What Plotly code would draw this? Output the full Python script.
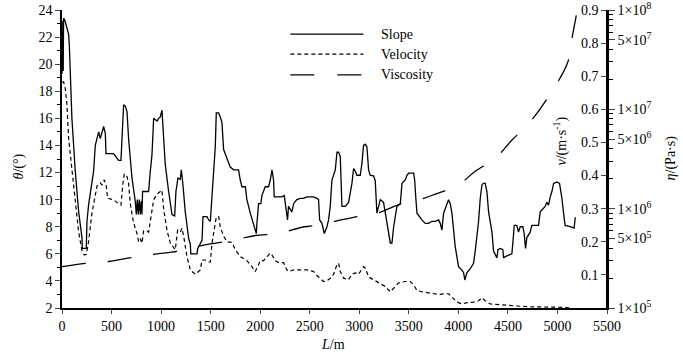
import plotly.graph_objects as go

# ---------------- data ----------------
slope_L = [0, 3, 6, 9, 12, 16, 30, 50, 67, 74, 84, 100, 134, 168, 202, 205, 245, 252, 268, 319, 336, 353, 370, 386,
           403, 420, 437, 444, 521, 571, 595, 605, 622, 639, 656, 672, 706, 740, 750, 760, 770, 780, 790, 800, 807,
           813, 874, 891, 908, 925, 942, 959, 976, 992, 1009, 1026, 1042, 1076, 1093, 1110, 1137, 1150, 1170, 1194,
           1204, 1218, 1244, 1278, 1295, 1300, 1362, 1370, 1413, 1423, 1463, 1480, 1497, 1507, 1523, 1547, 1557,
           1581, 1597, 1614, 1631, 1665, 1698, 1732, 1782, 1799, 1816, 1850, 1866, 1900, 1933, 1961, 1967, 1984,
           2007, 2017, 2051, 2085, 2102, 2119, 2135, 2142, 2169, 2219, 2243, 2263, 2276, 2286, 2320, 2337, 2370,
           2404, 2438, 2472, 2539, 2573, 2589, 2600, 2623, 2647, 2674, 2690, 2707, 2724, 2758, 2775, 2791, 2808,
           2825, 2859, 2892, 2926, 2943, 2960, 2976, 3010, 3027, 3043, 3060, 3077, 3094, 3110, 3144, 3161, 3178,
           3195, 3212, 3245, 3262, 3296, 3313, 3330, 3347, 3380, 3414, 3431, 3464, 3481, 3498, 3549, 3559, 3572,
           3582, 3632, 3666, 3700, 3733, 3767, 3800, 3817, 3834, 3851, 3868, 3901, 3918, 3935, 3969, 4002, 4036,
           4053, 4065, 4086, 4120, 4153, 4170, 4204, 4221, 4238, 4254, 4271, 4288, 4305, 4339, 4355, 4389, 4400,
           4423, 4449, 4456, 4473, 4507, 4540, 4551, 4564, 4590, 4607, 4624, 4651, 4664, 4678, 4691, 4708, 4725,
           4741, 4775, 4809, 4826, 4876, 4893, 4910, 4927, 4944, 4961, 4994, 5021, 5045, 5068, 5078, 5129, 5168,
           5180]
slope_theta = [19.3, 23.0, 19.6, 23.2, 19.5, 23.4, 23.2, 22.6, 22.2, 21.4, 18.7, 16.0, 12.1, 9.1, 7.15, 6.4, 6.4, 8.4,
               9.6, 12.1, 14.0, 14.5, 15.0, 14.5, 14.9, 15.4, 14.9, 13.4, 13.4, 12.9, 12.9, 14.5, 17.0, 16.9, 16.5,
               14.5, 11.6, 9.85, 8.9, 10.0, 8.9, 10.0, 8.9, 9.9, 8.9, 10.6, 10.6, 12.1, 13.3, 16.0, 15.9, 15.8, 16.0,
               16.1, 16.6, 14.5, 12.6, 10.6, 9.6, 8.9, 8.8, 10.6, 11.6, 11.5, 12.2, 11.3, 9.1, 7.15, 6.7, 6.0, 6.0,
               6.4, 7.0, 8.75, 8.75, 8.5, 8.4, 9.5, 11.45, 13.9, 16.4, 16.4, 16.1, 15.7, 13.7, 13.05, 12.4, 12.2,
               12.2, 11.45, 10.95, 10.95, 10.0, 9.0, 8.25, 7.5, 8.25, 9.7, 9.7, 10.3, 10.95, 10.95, 11.45, 12.2,
               11.45, 10.2, 10.2, 10.2, 10.3, 9.1, 8.5, 9.5, 9.1, 9.7, 10.0, 10.1, 10.1, 10.2, 10.2, 10.1, 10.0, 8.5,
               8.25, 7.5, 8.0, 8.5, 9.5, 11.45, 12.2, 13.5, 13.5, 13.2, 9.5, 9.5, 9.8, 11.2, 12.3, 12.1, 11.8, 11.8,
               12.7, 14.0, 14.1, 13.9, 12.2, 11.8, 11.75, 11.4, 9.0, 9.5, 10.0, 9.8, 9.0, 7.75, 6.8, 6.8, 8.0, 9.5,
               9.7, 11.2, 11.45, 11.8, 11.95, 11.95, 11.45, 10.0, 9.0, 8.5, 8.25, 8.25, 8.4, 8.4, 8.5, 8.25, 7.75,
               9.0, 9.3, 10.0, 9.7, 9.0, 6.5, 5.05, 4.8, 4.6, 4.07, 4.6, 4.9, 5.3, 6.2, 8.4, 10.1, 11.1, 11.2, 11.2,
               10.6, 9.1, 7.6, 6.2, 5.7, 6.3, 6.4, 6.3, 5.7, 5.8, 5.9, 6.0, 6.9, 8.1, 8.1, 7.6, 8.0, 8.0, 7.5, 6.4,
               7.2, 7.4, 7.6, 8.1, 8.1, 8.1, 9.1, 9.5, 9.8, 9.6, 10.2, 10.6, 11.2, 11.3, 11.2, 10.1, 8.6, 8.1, 8.0,
               7.9, 8.7]

vel_L = [0, 16, 33, 50, 67, 101, 134, 168, 202, 225, 245, 268, 302, 353, 386, 403, 427, 447, 460, 521, 571, 595,
         615, 629, 656, 672, 689, 723, 757, 773, 790, 807, 824, 857, 874, 891, 925, 959, 1009, 1026, 1059, 1093,
         1126, 1143, 1167, 1194, 1211, 1228, 1261, 1295, 1345, 1396, 1413, 1446, 1480, 1497, 1514, 1530, 1557,
         1581, 1597, 1631, 1665, 1715, 1749, 1799, 1866, 1917, 1950, 1984, 2001, 2034, 2068, 2102, 2119, 2152,
         2186, 2236, 2270, 2287, 2337, 2404, 2472, 2539, 2573, 2640, 2674, 2707, 2741, 2775, 2791, 2808, 2842,
         2892, 2926, 2960, 2993, 3043, 3060, 3094, 3144, 3195, 3262, 3313, 3347, 3397, 3464, 3515, 3549, 3582,
         3632, 3733, 3800, 3868, 3901, 3935, 3986, 4036, 4086, 4153, 4204, 4238, 4271, 4322, 4389, 4490, 4590,
         4691, 5028, 5062, 5129]
vel_v = [0.683, 0.683, 0.663, 0.614, 0.511, 0.413, 0.311, 0.229, 0.172, 0.160, 0.162, 0.200, 0.286, 0.368, 0.378,
         0.372, 0.387, 0.368, 0.331, 0.327, 0.315, 0.311, 0.376, 0.405, 0.397, 0.376, 0.315, 0.256, 0.225, 0.200,
         0.209, 0.196, 0.233, 0.233, 0.229, 0.266, 0.327, 0.344, 0.356, 0.299, 0.235, 0.196, 0.184, 0.176, 0.235,
         0.229, 0.241, 0.217, 0.155, 0.115, 0.102, 0.115, 0.145, 0.145, 0.139, 0.139, 0.196, 0.225, 0.274, 0.276,
         0.245, 0.217, 0.200, 0.198, 0.176, 0.155, 0.143, 0.125, 0.110, 0.131, 0.143, 0.143, 0.155, 0.166, 0.160,
         0.143, 0.137, 0.137, 0.115, 0.110, 0.115, 0.115, 0.115, 0.110, 0.098, 0.080, 0.082, 0.090, 0.102, 0.131,
         0.135, 0.110, 0.090, 0.086, 0.102, 0.106, 0.102, 0.125, 0.121, 0.094, 0.086, 0.076, 0.065, 0.049, 0.059,
         0.076, 0.080, 0.080, 0.070, 0.053, 0.049, 0.045, 0.041, 0.043, 0.043, 0.033, 0.018, 0.012, 0.016, 0.018,
         0.022, 0.031, 0.022, 0.012, 0.010, 0.008, 0.006, 0.004, 0.004, 0.002, 0.000]

visc_L = [0, 235, 470, 706, 941, 1177, 1362, 1497, 1732, 1950, 2186, 2422, 2523, 2741, 2977, 3195, 3431, 3649,
          3767, 4002, 4170, 4372, 4541, 4709, 4900, 5102, 5146, 5190]
visc_eta = [2.61e5, 2.82e5, 2.94e5, 3.22e5, 3.48e5, 3.74e5, 4.15e5, 4.42e5, 4.81e5, 5.37e5, 5.62e5, 6.50e5, 6.70e5,
            7.41e5, 8.32e5, 9.12e5, 1.13e6, 1.27e6, 1.40e6, 1.74e6, 2.38e6, 3.21e6, 4.91e6, 7.16e6, 1.30e7, 2.94e7,
            5.17e7, 8.81e7]

x_ticks = [0, 500, 1000, 1500, 2000, 2500, 3000, 3500, 4000, 4500, 5000, 5500]
theta_ticks = [2, 4, 6, 8, 10, 12, 14, 16, 18, 20, 22, 24]
v_ticks = [0.1, 0.2, 0.3, 0.4, 0.5, 0.6, 0.7, 0.8, 0.9]
eta_major = [1e5, 5e5, 1e6, 5e6, 1e7, 5e7, 1e8]
eta_major_text = ["1×10<sup>5</sup>", "5×10<sup>5</sup>", "1×10<sup>6</sup>", "5×10<sup>6</sup>",
                  "1×10<sup>7</sup>", "5×10<sup>7</sup>", "1×10<sup>8</sup>"]
eta_minor = [2e5, 3e5, 4e5, 6e5, 7e5, 8e5, 9e5,
             2e6, 3e6, 4e6, 6e6, 7e6, 8e6, 9e6,
             2e7, 3e7, 4e7, 6e7, 7e7, 8e7, 9e7]
legend_names = ["Slope", "Velocity", "Viscosity"]

FONT = "Liberation Serif, Times New Roman, serif"

fig = go.Figure()
fig.add_trace(go.Scatter(x=slope_L, y=slope_theta, mode="lines", name="Slope",
                         line=dict(color="black", width=1.3), yaxis="y", showlegend=False))
fig.add_trace(go.Scatter(x=vel_L, y=vel_v, mode="lines", name="Velocity",
                         line=dict(color="black", width=1.2, dash="4px,3px"), yaxis="y2", showlegend=False))
fig.add_trace(go.Scatter(x=visc_L, y=visc_eta, mode="lines", name="Viscosity", line_shape="spline",
                         line=dict(color="black", width=1.3, dash="24px,22px"), yaxis="y3", showlegend=False))

tickfont = dict(family=FONT, size=14, color="black")

fig.update_layout(
    width=683, height=356,
    margin=dict(l=62, r=76, t=10, b=48, autoexpand=False),
    paper_bgcolor="white", plot_bgcolor="white",
    font=dict(family=FONT, size=14, color="black"),
    showlegend=False,
    xaxis=dict(range=[0, 5500], tickvals=x_ticks, ticks="outside", ticklen=4, tickwidth=1.2,
               showline=True, linecolor="black", linewidth=1.5, showgrid=False, zeroline=False,
               tickfont=tickfont, automargin=False),
    yaxis=dict(range=[2, 24], tickvals=theta_ticks, ticks="outside", ticklen=5, tickwidth=1.2,
               minor=dict(dtick=1, ticks="outside", ticklen=3, tickwidth=1, tickcolor="black", showgrid=False),
               showline=True, linecolor="black", linewidth=1.5, showgrid=False, zeroline=False,
               tickfont=tickfont, automargin=False),
    yaxis2=dict(range=[0, 0.9], tickvals=v_ticks, ticktext=["%.1f" % t for t in v_ticks],
                overlaying="y", side="left", anchor="free", position=1.0,
                ticks="outside", ticklen=5, tickwidth=1.2,
                showline=True, linecolor="black", linewidth=1.5, showgrid=False, zeroline=False,
                tickfont=tickfont, automargin=False),
    yaxis3=dict(type="log", range=[5, 8], tickvals=eta_major, ticktext=eta_major_text,
                minor=dict(tickmode="array", tickvals=eta_minor, ticks="outside", ticklen=4, tickwidth=1,
                           tickcolor="black", showgrid=False),
                overlaying="y", side="right", anchor="x",
                ticks="outside", ticklen=6, tickwidth=1.2,
                showline=True, linecolor="black", linewidth=1.5, showgrid=False, zeroline=False,
                tickfont=tickfont, automargin=False),
)

# axis titles
ann = [
    dict(text="<i>θ</i>/(°)", x=-0.078, y=0.4765, textangle=-90),
    dict(text="<i>L</i>/m", x=0.4975, y=-0.124, textangle=0),
    dict(text="<i>v</i>/(m·s<sup>-1</sup>)", x=0.9145, y=0.56, textangle=-90),
    dict(text="<i>η</i>/(Pa·s)", x=1.118, y=0.503, textangle=-90),
]
for a in ann:
    fig.add_annotation(xref="paper", yref="paper", showarrow=False, xanchor="center", yanchor="middle",
                       font=dict(family=FONT, size=14, color="black"), **a)

# custom legend
leg_y = [0.919, 0.852, 0.782]
leg_dash = ["solid", "4px,3px", "24px,23px"]
for name, yy, dsh in zip(legend_names, leg_y, leg_dash):
    fig.add_shape(type="line", xref="paper", yref="paper", x0=0.419, x1=0.553, y0=yy, y1=yy,
                  line=dict(color="black", width=1.3, dash=dsh))
    fig.add_annotation(xref="paper", yref="paper", x=0.581, y=yy, text=name, showarrow=False,
                       xanchor="left", yanchor="middle", font=dict(family=FONT, size=14, color="black"))

fig.write_html("out.html", config={"displayModeBar": False},
               post_script="document.body.style.margin='0';document.body.style.padding='0';")
